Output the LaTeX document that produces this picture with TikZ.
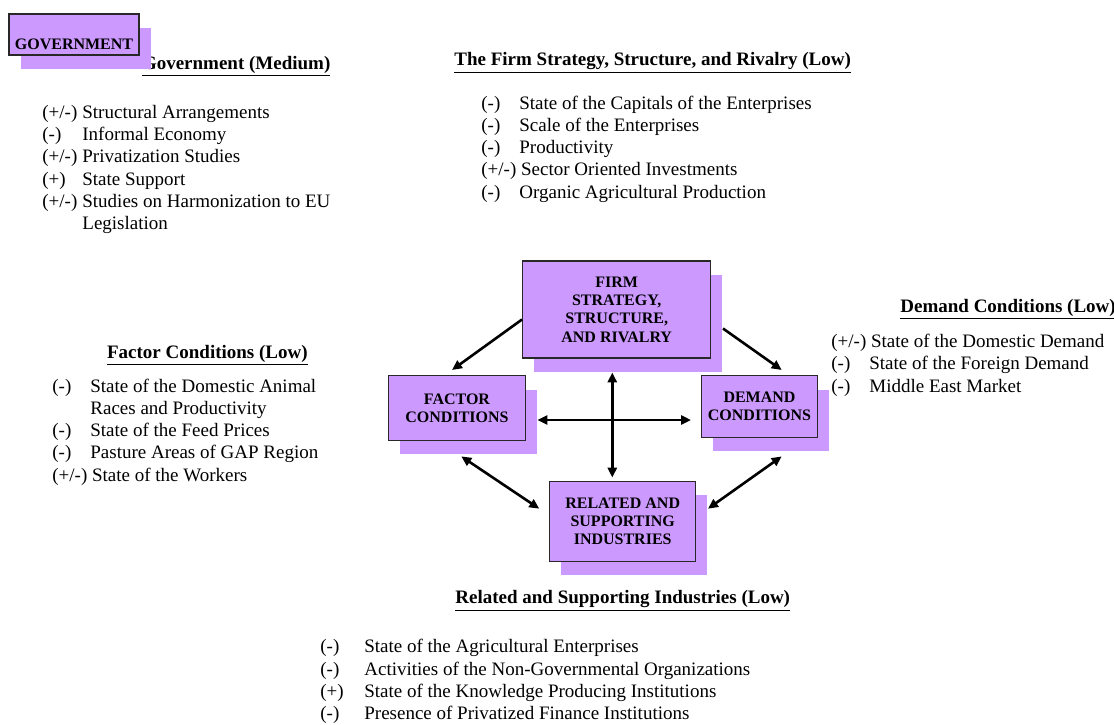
\documentclass[tikz,border=0pt]{standalone}
\usepackage{fontspec}
\setmainfont{Liberation Serif}
\usetikzlibrary{arrows.meta,shadows}
\definecolor{lilac}{RGB}{204,153,255}
\definecolor{edgegray}{RGB}{40,40,40}
\newcommand{\lbl}[2]{\setbox0\hbox{#2\ }\ifdim\wd0<#1\relax\makebox[#1][l]{#2}\else\box0\fi}
\tikzset{
  pbox/.style={draw=edgegray, line width=0.7pt, fill=lilac, inner sep=0pt, align=center,
               font=\fontsize{8}{9.2}\selectfont\bfseries,
               drop shadow={shadow xshift=5.75pt, shadow yshift=-7pt, fill=lilac, draw=none, opacity=1}},
  head/.style={anchor=base west, inner sep=0pt, font=\fontsize{9.5}{11}\selectfont\bfseries},
  items/.style={anchor=base west, inner sep=0pt, align=left, font=\fontsize{9.5}{11.1}\selectfont},
  onearr/.style={-{Triangle[length=5pt,width=4.5pt]}, line width=1.3pt},
  twoarr/.style={{Triangle[length=5pt,width=4.5pt]}-{Triangle[length=5pt,width=4.5pt]}, line width=1.3pt},
}
\begin{document}
\begin{tikzpicture}[x=0.5pt,y=-0.5pt]
    \useasboundingbox (0,0) rectangle (1114,724);
    % headings and their lists (lists sit on the baseline of their last line)
    \node[head] (govhead) at (141.6,69) {\underline{Government (Medium)}};
    \node[items] (govlist) at (42,229.5)
         {\lbl{20pt}{(+/-)}Structural Arrangements\\ \lbl{20pt}{(-)}Informal Economy\\
          \lbl{20pt}{(+/-)}Privatization Studies\\ \lbl{20pt}{(+)}State Support\\
          \lbl{20pt}{(+/-)}Studies on Harmonization to EU\\ \lbl{20pt}{}Legislation};
    \node[head] (firmhead) at (454,65) {\underline{The Firm Strategy, Structure, and Rivalry (Low)}};
    \node[items] (firmlist) at (481,198)
         {\lbl{19pt}{(-)}State of the Capitals of the Enterprises\\ \lbl{19pt}{(-)}Scale of the Enterprises\\
          \lbl{19pt}{(-)}Productivity\\ \lbl{19pt}{(+/-)}Sector Oriented Investments\\
          \lbl{19pt}{(-)}Organic Agricultural Production};
    \node[head] (factorhead) at (106.7,358) {\underline{Factor Conditions (Low)}};
    \node[items] (factorlist) at (52,481)
         {\lbl{19pt}{(-)}State of the Domestic Animal\\ \lbl{19pt}{}Races and Productivity\\
          \lbl{19pt}{(-)}State of the Feed Prices\\ \lbl{19pt}{(-)}Pasture Areas of GAP Region\\
          \lbl{19pt}{(+/-)}State of the Workers};
    \node[head] (demandhead) at (900,312) {\underline{Demand Conditions (Low)}};
    \node[items] (demandlist) at (831,392)
         {\lbl{19pt}{(+/-)}State of the Domestic Demand\\ \lbl{19pt}{(-)}State of the Foreign Demand\\
          \lbl{19pt}{(-)}Middle East Market};
    \node[head] (relatedhead) at (455,603) {\underline{Related and Supporting Industries (Low)}};
    \node[items] (relatedlist) at (320,719.5)
         {\lbl{22pt}{(-)}State of the Agricultural Enterprises\\ \lbl{22pt}{(-)}Activities of the Non-Governmental Organizations\\
          \lbl{22pt}{(+)}State of the Knowledge Producing Institutions\\ \lbl{22pt}{(-)}Presence of Privatized Finance Institutions};
    % the diamond boxes
    \node[pbox, minimum width=65pt, minimum height=20.5pt, text height=15.1pt, text depth=0pt] (gov) at (74,34.5) {GOVERNMENT};
    \node[pbox, minimum width=94pt, minimum height=48.5pt] (firm) at (616.7,309.5) {FIRM\\STRATEGY,\\STRUCTURE,\\AND RIVALRY};
    \node[pbox, minimum width=68.3pt, minimum height=32.3pt] (factor) at (457,408) {FACTOR\\CONDITIONS};
    \node[pbox, minimum width=58.2pt, minimum height=30.8pt] (demand) at (759.5,406.5) {DEMAND\\CONDITIONS};
    \node[pbox, minimum width=73pt, minimum height=40pt] (related) at (622.7,521.3) {RELATED AND\\SUPPORTING\\INDUSTRIES};
    \draw[onearr] ([shift={(0,10)}]firm.west) -- ([shift={(-5,-5)}]factor.north);
    \draw[onearr] ([shift={(11.6,19)}]firm.east) -- ([shift={(22.2,-5)}]demand.north);
    \draw[twoarr] ([shift={(11.4,12)}]factor.east) -- ([shift={(-9.6,13.5)}]demand.west);
    \draw[twoarr] ([shift={(-4.4,13.7)}]firm.south) -- ([shift={(-10.4,-3)}]related.north);
    \draw[twoarr] ([shift={(4.3,15.4)}]factor.south) -- ([shift={(-9.7,-12.6)}]related.west);
    \draw[twoarr] ([shift={(22.2,18.4)}]demand.south) -- ([shift={(11.6,-12.6)}]related.east);
  \end{tikzpicture}
\end{document}
